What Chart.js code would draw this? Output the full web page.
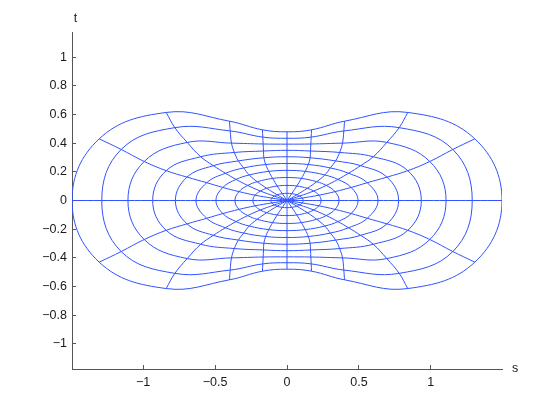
<!DOCTYPE html>
<html>
<head>
<meta charset="utf-8">
<script src="https://cdn.jsdelivr.net/npm/chart.js@4.4.1/dist/chart.umd.min.js"></script>
<style>
html, body { margin: 0; padding: 0; background: #fff; }
canvas { display: block; }
</style>
</head>
<body>
<canvas id="grid" width="554" height="415"></canvas>
<script>
// Mapped polar grid (10 rings x 20 rays). Node positions,
// first quadrant only: one pair of arrays per ray angle, index = ring 1..10 (inner -> outer).
// The other three quadrants are the mirror images.
const rayAngles = [0, 18, 36, 54, 72, 90];
const s0  = [0.113, 0.237, 0.362, 0.494, 0.633, 0.776, 0.934, 1.106, 1.288, 1.495];
const t0  = [0, 0, 0, 0, 0, 0, 0, 0, 0, 0];
const s18 = [0.106, 0.222, 0.334, 0.446, 0.558, 0.695, 0.840, 0.993, 1.153, 1.306];
const t18 = [0.017, 0.037, 0.062, 0.091, 0.124, 0.163, 0.208, 0.272, 0.356, 0.430];
const s36 = [0.089, 0.185, 0.273, 0.354, 0.428, 0.512, 0.600, 0.694, 0.780, 0.840];
const t36 = [0.031, 0.066, 0.105, 0.147, 0.190, 0.243, 0.305, 0.405, 0.508, 0.614];
const s54 = [0.069, 0.141, 0.207, 0.263, 0.301, 0.338, 0.366, 0.386, 0.395, 0.400];
const t54 = [0.040, 0.085, 0.131, 0.178, 0.227, 0.276, 0.335, 0.400, 0.485, 0.553];
const s72 = [0.033, 0.068, 0.100, 0.127, 0.148, 0.161, 0.163, 0.166, 0.168, 0.171];
const t72 = [0.048, 0.101, 0.154, 0.203, 0.251, 0.298, 0.345, 0.394, 0.442, 0.493];
const s90 = [0, 0, 0, 0, 0, 0, 0, 0, 0, 0];
const t90 = [0.050, 0.105, 0.160, 0.210, 0.258, 0.305, 0.350, 0.393, 0.434, 0.479];

const xTicks = [-1, -0.5, 0, 0.5, 1];
const yTicks = [-1, -0.8, -0.6, -0.4, -0.2, 0, 0.2, 0.4, 0.6, 0.8, 1];

const lineColor = '#3052ff';
const axisColor = '#555';
const textColor = '#1a1a1a';
const fontFamily = '"Liberation Sans", Arial, Helvetica, sans-serif';

const quadS = [s0, s18, s36, s54, s72, s90];
const quadT = [t0, t18, t36, t54, t72, t90];
const nRings = s0.length;

// node of ring r on ray j (j = 0..19, 18 degrees apart)
function node(r, j) {
    j = ((j % 20) + 20) % 20;
    let q = j, sx = 1, sy = 1;
    if (j > 5 && j <= 10) { q = 10 - j; sx = -1; }
    else if (j > 10 && j <= 15) { q = j - 10; sx = -1; sy = -1; }
    else if (j > 15) { q = 20 - j; sy = -1; }
    return {x: sx * quadS[q][r], y: sy * quadT[q][r]};
}

const datasets = [];
// rings, closed loops
for (let r = 0; r < nRings; r++) {
    const pts = [];
    for (let j = 0; j < 20; j++) pts.push(node(r, j));
    datasets.push({data: pts, closed: true});
}
// rays, drawn as diameters through the centre
for (let j = 0; j < 10; j++) {
    const pts = [];
    for (let r = nRings - 1; r >= 0; r--) pts.push(node(r, j));
    pts.push({x: 0, y: 0});
    for (let r = 0; r < nRings; r++) pts.push(node(r, j + 10));
    datasets.push({data: pts, closed: false});
}

// close the ring lines the same way the radar chart does
const loopPlugin = {
    id: 'loopLines',
    afterDatasetUpdate(chart, args) {
        const ds = chart.data.datasets[args.index];
        if (ds.closed && args.meta.dataset) {
            args.meta.dataset._loop = true;
            args.meta.dataset._fullLoop = true;
        }
    }
};

// axis names at the ends of the axes
const axisNames = {
    id: 'axisNames',
    afterDraw(chart) {
        const ctx = chart.ctx;
        const area = chart.chartArea;
        ctx.save();
        ctx.fillStyle = textColor;
        ctx.font = '12.5px ' + fontFamily;
        ctx.textAlign = 'center';
        ctx.textBaseline = 'alphabetic';
        ctx.fillText('s', area.right + 13, area.bottom + 3);
        ctx.fillText('t', area.left + 3.5, area.top - 10);
        ctx.restore();
    }
};

const fmt = v => (v < 0 ? '\u2212' + String(-v) : String(v));

new Chart(document.getElementById('grid').getContext('2d'), {
    type: 'line',
    data: {datasets: datasets},
    options: {
        responsive: false,
        animation: false,
        devicePixelRatio: 1,
        events: [],
        layout: {padding: {left: 0, right: 52, top: 32, bottom: 0}},
        elements: {
            point: {radius: 0, hoverRadius: 0},
            line: {borderColor: lineColor, borderWidth: 1, tension: 0.4, fill: false, capBezierPoints: false}
        },
        plugins: {legend: {display: false}, tooltip: {enabled: false}},
        scales: {
            x: {
                type: 'linear', min: -1.495, max: 1.495,
                afterFit: s => { s.height = 46; },
                afterBuildTicks: s => { s.ticks = xTicks.map(v => ({value: v})); },
                grid: {drawOnChartArea: false, drawTicks: true, tickLength: -4, color: axisColor},
                border: {display: true, color: axisColor, width: 1},
                ticks: {color: textColor, padding: 10, maxRotation: 0, font: {family: fontFamily, size: 12.5}, callback: fmt}
            },
            y: {
                type: 'linear', min: -1.175, max: 1.175,
                afterFit: s => { s.width = 72; },
                afterBuildTicks: s => { s.ticks = yTicks.map(v => ({value: v})); },
                grid: {drawOnChartArea: false, drawTicks: true, tickLength: -4, color: axisColor},
                border: {display: true, color: axisColor, width: 1},
                ticks: {color: textColor, padding: 9, font: {family: fontFamily, size: 12.5}, callback: fmt}
            }
        }
    },
    plugins: [loopPlugin, axisNames]
});
</script>
</body>
</html>
